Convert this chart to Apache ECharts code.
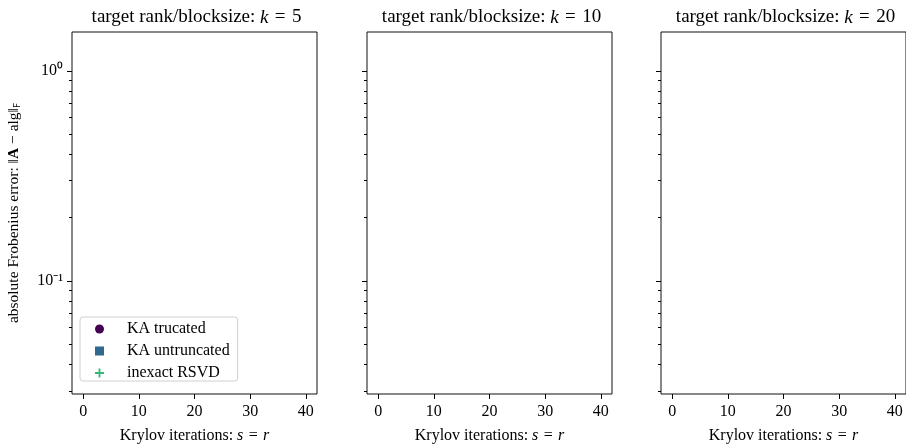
<!DOCTYPE html>
<html>
<head>
<meta charset="utf-8">
<script src="https://cdn.jsdelivr.net/npm/echarts@6/dist/echarts.min.js"></script>
<style>
  html, body { margin: 0; padding: 0; background: #fff; }
  #chart { width: 906px; height: 444px; }
</style>
</head>
<body>
<div id="chart"></div>
<script>
// Target rank / block size for each panel
const blockSizes = [5, 10, 20];

// Method names and colours (viridis samples)
const seriesNames = ['KA trucated', 'KA untruncated', 'inexact RSVD'];
const seriesColors = ['#440154', '#31688e', '#35b779'];

// Error per panel as [s, ||A - alg||_F] pairs (no recorded points)
const kaTruncated = [[], [], []];
const kaUntruncated = [[], [], []];
const inexactRsvd = [[], [], []];

// Axis ticks and ranges
const xTicks = [0, 10, 20, 30, 40];
const xRange = [-2, 42];
const yMajorTicks = [0.1, 1];
const yMinorTicks = [0.03, 0.04, 0.05, 0.06, 0.07, 0.08, 0.09,
                     0.2, 0.3, 0.4, 0.5, 0.6, 0.7, 0.8, 0.9];
const yRange = [0.029, 1.53];

const FONT = 'Liberation Serif';
const panelLeft = [72, 367, 661];
const panelWidth = 245;
const panelTop = 32;
const panelHeight = 362;

const plusPath = 'path://M4,0H6V4H10V6H6V10H4V6H0V4H4Z';
const symbols = ['circle', 'rect', plusPath];
const symbolSizes = [8, 8, 10];
const seriesData = [kaTruncated, kaUntruncated, inexactRsvd];

const superscripts = { '0': '\u2070', '1': '\u00b9', '-': '\u207b' };
function logLabel(v) {
  const e = String(Math.round(Math.log10(v)));
  return '10' + e.split('').map(c => superscripts[c]).join('');
}

const EQ = '\u2004=\u2004';
const grids = [], xAxes = [], yAxes = [], titles = [], series = [];

blockSizes.forEach((k, i) => {
  grids.push({
    left: panelLeft[i], top: panelTop, width: panelWidth, height: panelHeight,
    outerBoundsMode: 'none', containLabel: false,
    show: true, borderColor: '#111', borderWidth: 1, backgroundColor: 'transparent'
  });
  titles.push({
    text: '{n|target rank/blocksize: }{i|k}{n|' + EQ + k + '}',
    left: panelLeft[i] + panelWidth / 2 - 3,
    textAlign: 'center',
    top: 3,
    textStyle: {
      fontWeight: 'normal',
      rich: {
        n: { fontFamily: FONT, fontSize: 19, fontWeight: 'normal', color: '#000' },
        i: { fontFamily: FONT, fontSize: 19, fontWeight: 'normal', fontStyle: 'italic', color: '#000' }
      }
    }
  });
  xAxes.push({
    type: 'value', gridIndex: i, min: xRange[0], max: xRange[1], position: 'bottom',
    axisLine: { show: false, onZero: false },
    axisTick: { show: true, customValues: xTicks, length: 5, lineStyle: { color: '#000', width: 1 } },
    axisLabel: { customValues: xTicks, margin: 10, fontFamily: FONT, fontSize: 16, color: '#000' },
    splitLine: { show: false },
    name: '{n|Krylov iterations: }{i|s}{n|' + EQ + '}{i|r}',
    nameLocation: 'middle', nameGap: 34,
    nameTextStyle: {
      rich: {
        n: { fontFamily: FONT, fontSize: 16, color: '#000' },
        i: { fontFamily: FONT, fontSize: 16, fontStyle: 'italic', color: '#000' }
      }
    }
  });
  // major ticks with labels
  yAxes.push({
    type: 'log', logBase: 10, gridIndex: i, min: yRange[0], max: yRange[1], position: 'left',
    axisLine: { show: false, onZero: false },
    axisTick: { show: true, customValues: yMajorTicks, length: 5, lineStyle: { color: '#000', width: 1 } },
    axisLabel: {
      show: i === 0, customValues: yMajorTicks, margin: 9,
      fontFamily: FONT, fontSize: 16, color: '#000', formatter: logLabel
    },
    splitLine: { show: false },
    name: i === 0 ? '{n|absolute Frobenius error: \u2016}{b|A}{n| \u2212 alg\u2016}{s|F}' : '',
    nameLocation: 'middle', nameGap: 50, nameRotate: 90,
    nameTextStyle: {
      rich: {
        n: { fontFamily: FONT, fontSize: 15.5, color: '#000' },
        b: { fontFamily: FONT, fontSize: 15.5, fontWeight: 'bold', color: '#000' },
        s: { fontFamily: 'DejaVu Sans', fontSize: 9, color: '#000', verticalAlign: 'bottom', padding: [6, 0, 0, 0] }
      }
    }
  });
  // minor ticks
  yAxes.push({
    type: 'log', logBase: 10, gridIndex: i, min: yRange[0], max: yRange[1], position: 'left',
    axisLine: { show: false, onZero: false },
    axisTick: { show: true, customValues: yMinorTicks, length: 3, lineStyle: { color: '#000', width: 1 } },
    axisLabel: { show: false },
    splitLine: { show: false }
  });
  seriesNames.forEach((name, j) => {
    series.push({
      type: 'scatter', name: name,
      xAxisIndex: i, yAxisIndex: 2 * i,
      symbol: symbols[j], symbolSize: symbolSizes[j],
      itemStyle: { color: seriesColors[j], opacity: 1 },
      data: seriesData[j][i]
    });
  });
});

const chart = echarts.init(document.getElementById('chart'), null, { renderer: 'canvas' });
chart.setOption({
  animation: false,
  backgroundColor: '#fff',
  title: titles,
  grid: grids,
  xAxis: xAxes,
  yAxis: yAxes,
  legend: {
    orient: 'vertical', left: 80, top: 317,
    data: seriesNames.map((n, j) => ({
      name: n, icon: symbols[j],
      itemStyle: { color: seriesColors[j], opacity: 1 }
    })),
    itemWidth: 9, itemHeight: 9, itemGap: 6,
    padding: [4, 8, 0, 15],
    backgroundColor: 'rgba(255,255,255,0.8)',
    borderColor: '#d0d0d0', borderWidth: 1, borderRadius: 3,
    textStyle: { fontFamily: FONT, fontSize: 16, color: '#000', lineHeight: 16, padding: [0, 0, 0, 18] }
  },
  series: series
});
</script>
</body>
</html>
